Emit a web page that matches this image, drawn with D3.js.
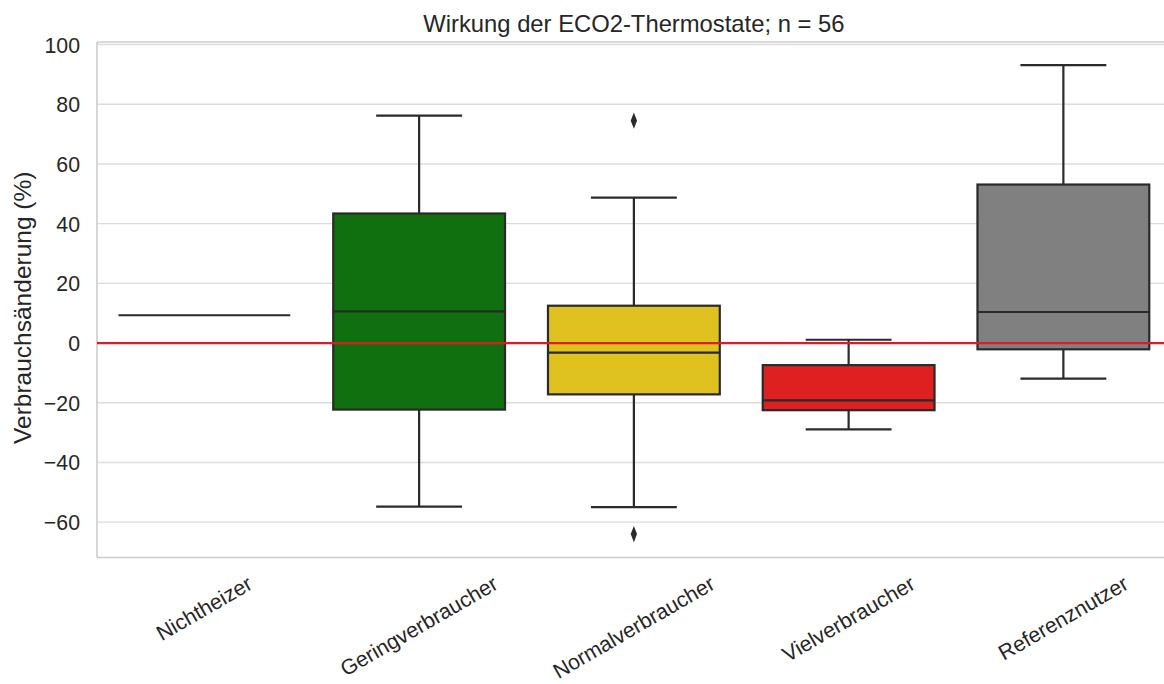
<!DOCTYPE html>
<html>
<head>
<meta charset="utf-8">
<script src="https://cdn.jsdelivr.net/npm/d3@7"></script>
<style>
  html, body { margin: 0; padding: 0; background: #ffffff; }
  svg { display: block; font-family: "Liberation Sans", Arial, sans-serif; }
</style>
</head>
<body>
<svg id="chart" width="1164" height="684"></svg>
<script>
// ---- data ----
const categories = ["Nichtheizer", "Geringverbraucher", "Normalverbraucher", "Vielverbraucher", "Referenznutzer"];
const whiskerLow  = [9.3, -54.8, -55.0, -28.9, -11.9];
const q1          = [9.3, -22.3, -17.2, -22.5, -2.1];
const medians     = [9.3, 10.6, -3.2, -19.2, 10.4];
const q3          = [9.3, 43.4, 12.5, -7.4, 53.1];
const whiskerHigh = [9.3, 76.2, 48.7, 1.1, 93.1];
const outlierCats = ["Normalverbraucher", "Normalverbraucher"];
const outlierVals = [74.5, -64.0];
const boxColors = ["#107010", "#107010", "#dfc120", "#df2020", "#808080"];
const yTicks = [-60, -40, -20, 0, 20, 40, 60, 80, 100];
const title = "Wirkung der ECO2-Thermostate; n = 56";
const yLabel = "Verbrauchsänderung (%)";
const refValue = 0;

// ---- layout ----
const svg = d3.select("#chart");
const pLeft = 97, pTop = 42, pBottom = 557.5;
const bandW = 214.75;
const pRight = pLeft + bandW * categories.length;
const textColor = "#262626";
const lineColor = "#2a2a2a";
const gridColor = "#dcdcdc";

const x = d3.scaleBand().domain(categories).range([pLeft, pRight]).paddingInner(0).paddingOuter(0);
const y = d3.scaleLinear().domain([-71.85, 100.85]).range([pBottom, pTop]);

// grid
svg.append("g").selectAll("line").data(yTicks).join("line")
  .attr("x1", pLeft).attr("x2", pRight)
  .attr("y1", d => y(d)).attr("y2", d => y(d))
  .attr("stroke", gridColor).attr("stroke-width", 1.4);

// spines
svg.append("line").attr("x1", pLeft).attr("x2", pLeft).attr("y1", pTop).attr("y2", pBottom)
  .attr("stroke", "#cccccc").attr("stroke-width", 1.6);
svg.append("line").attr("x1", pLeft).attr("x2", pRight).attr("y1", pTop).attr("y2", pTop)
  .attr("stroke", "#cccccc").attr("stroke-width", 1.6);
svg.append("line").attr("x1", pLeft).attr("x2", pRight).attr("y1", pBottom).attr("y2", pBottom)
  .attr("stroke", "#cccccc").attr("stroke-width", 1.6);

// y axis via d3 axis
const yAxis = d3.axisLeft(y).tickValues(yTicks).tickSize(0).tickPadding(0)
  .tickFormat(d => d < 0 ? "\u2212" + Math.abs(d) : String(d));
const ya = svg.append("g").attr("transform", `translate(${pLeft - 17},0)`).call(yAxis);
ya.select(".domain").remove();
ya.selectAll("text").attr("fill", textColor).attr("font-size", 21.3)
  .attr("font-family", "Liberation Sans, Arial, sans-serif").attr("dy", "0.35em");

// boxes
const bw = x.bandwidth() * 0.8;
const g = svg.append("g");
const lw = 2.2;
categories.forEach((c, i) => {
  const cx = x(c) + x.bandwidth() / 2;
  const capHalf = bw / 4;
  g.append("line").attr("x1", cx).attr("x2", cx).attr("y1", y(q3[i])).attr("y2", y(whiskerHigh[i]))
    .attr("stroke", lineColor).attr("stroke-width", lw);
  g.append("line").attr("x1", cx).attr("x2", cx).attr("y1", y(q1[i])).attr("y2", y(whiskerLow[i]))
    .attr("stroke", lineColor).attr("stroke-width", lw);
  if (whiskerHigh[i] !== q3[i]) {
    g.append("line").attr("x1", cx - capHalf).attr("x2", cx + capHalf)
      .attr("y1", y(whiskerHigh[i])).attr("y2", y(whiskerHigh[i]))
      .attr("stroke", lineColor).attr("stroke-width", lw);
  }
  if (whiskerLow[i] !== q1[i]) {
    g.append("line").attr("x1", cx - capHalf).attr("x2", cx + capHalf)
      .attr("y1", y(whiskerLow[i])).attr("y2", y(whiskerLow[i]))
      .attr("stroke", lineColor).attr("stroke-width", lw);
  }
  g.append("rect").attr("x", cx - bw / 2).attr("width", bw)
    .attr("y", y(q3[i])).attr("height", Math.max(0, y(q1[i]) - y(q3[i])))
    .attr("fill", boxColors[i]).attr("stroke", lineColor).attr("stroke-width", lw);
  g.append("line").attr("x1", cx - bw / 2).attr("x2", cx + bw / 2)
    .attr("y1", y(medians[i])).attr("y2", y(medians[i]))
    .attr("stroke", lineColor).attr("stroke-width", lw);
});

// outliers (diamonds)
const diamond = d3.symbol().type(d3.symbolDiamond).size(48);
svg.append("g").selectAll("path").data(outlierVals).join("path")
  .attr("d", diamond)
  .attr("transform", (d, i) => `translate(${x(outlierCats[i]) + x.bandwidth() / 2},${y(d)}) scale(0.85,1.25)`)
  .attr("fill", lineColor);

// reference line
svg.append("line").attr("x1", pLeft).attr("x2", pRight)
  .attr("y1", y(refValue)).attr("y2", y(refValue))
  .attr("stroke", "#dd1c1c").attr("stroke-width", 2.2);

// x tick labels, rotated 30deg
const xl = svg.append("g").selectAll("text").data(categories).join("text")
  .text(d => d)
  .attr("font-size", 21.3).attr("fill", textColor)
  .attr("text-anchor", "middle").attr("dominant-baseline", "central");
xl.each(function(d) {
  const w = this.getComputedTextLength();
  const cx = x(d) + x.bandwidth() / 2;
  const cy = 582 + w / 4;
  d3.select(this).attr("transform", `translate(${cx},${cy}) rotate(-30)`);
});

// title
svg.append("text").text(title)
  .attr("x", (pLeft + pRight) / 2).attr("y", 31.5)
  .attr("text-anchor", "middle").attr("font-size", 23.8).attr("fill", textColor);

// y label
svg.append("text").text(yLabel)
  .attr("transform", `translate(31,${(pTop + pBottom) / 2 + 8}) rotate(-90)`)
  .attr("text-anchor", "middle").attr("font-size", 24.5).attr("fill", textColor);
</script>
</body>
</html>
